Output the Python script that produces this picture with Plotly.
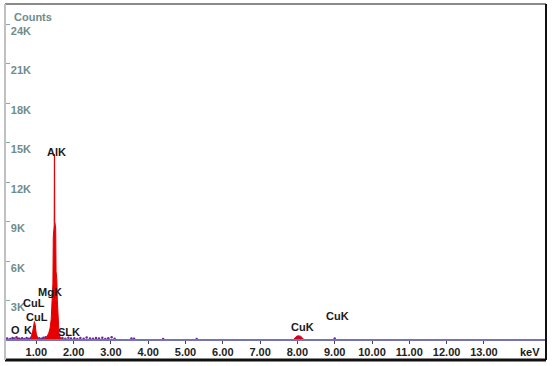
import plotly.graph_objects as go

# ---- data ----
spectrum_kev = [0.30, 0.45, 0.52, 0.58, 0.70, 0.85, 0.90, 0.93, 0.95, 0.97, 1.00, 1.04, 1.10, 1.20,
                1.28, 1.33, 1.37, 1.40, 1.42, 1.435, 1.445, 1.455, 1.465, 1.48, 1.485, 1.49, 1.495,
                1.505, 1.52, 1.53, 1.54, 1.55, 1.565, 1.58, 1.595, 1.61, 1.64, 1.68, 1.75, 1.85]
spectrum_counts = [0, 60, 150, 60, 30, 120, 600, 1150, 1400, 1150, 450, 150, 80, 120,
                   250, 500, 900, 1600, 2600, 3800, 4300, 7800, 8300, 8700, 14100, 13800, 9000,
                   8800, 8500, 5200, 4900, 4600, 3000, 1600, 800, 400, 200, 100, 50, 0]

cuk_kev = [7.88, 7.93, 7.98, 8.03, 8.08, 8.13, 8.18]
cuk_counts = [0, 180, 290, 320, 290, 180, 0]

noise_kev = [0.22, 0.30, 0.36, 0.41, 0.47, 0.55, 0.62, 0.68, 0.74, 0.80, 0.86, 1.08, 1.14, 1.19,
             1.25, 1.70, 1.78, 1.86, 1.93, 2.02, 2.10, 2.18, 2.27, 2.35, 2.44, 2.52, 2.60, 2.68,
             2.77, 2.85, 2.93, 3.02, 3.10, 3.55, 3.62, 4.40, 5.30, 9.00]
noise_counts = [120, 80, 150, 110, 200, 90, 140, 70, 160, 100, 180, 130, 90, 170,
                210, 150, 90, 170, 110, 140, 80, 160, 100, 190, 120, 90, 150, 110,
                170, 80, 140, 200, 100, 120, 90, 80, 70, 110]

x_tick_vals = [1, 2, 3, 4, 5, 6, 7, 8, 9, 10, 11, 12, 13]
x_tick_text = ["1.00", "2.00", "3.00", "4.00", "5.00", "6.00", "7.00", "8.00", "9.00",
               "10.00", "11.00", "12.00", "13.00"]
y_tick_vals = [3000, 6000, 9000, 12000, 15000, 18000, 21000, 24000]
y_tick_text = ["3K", "6K", "9K", "12K", "15K", "18K", "21K", "24K"]

peak_labels = ["AlK", "MgK", "CuL", "CuL", "O", "K", "SLK", "CuK", "CuK"]

# ---- figure ----
W, H = 552, 366
ML, MR, MT, MB = 5, 6, 4, 6
PX_PER_KEV = 37.3
PX_PER_COUNT = 39.5 / 3000
AX0_PX = 340  # pixel row of zero counts

def kev_at(px):
    return (px + 1) / PX_PER_KEV

def cnt_at(py):
    return (AX0_PX - py) / PX_PER_COUNT

FONT = "Arial, Liberation Sans, sans-serif"

fig = go.Figure()
fig.add_trace(go.Scatter(x=spectrum_kev, y=spectrum_counts, mode="lines",
                         line=dict(color="#e00000", width=1), fill="tozeroy",
                         fillcolor="#e80000", hoverinfo="skip"))
fig.add_trace(go.Scatter(x=cuk_kev, y=cuk_counts, mode="lines",
                         line=dict(color="#d00020", width=1), fill="tozeroy",
                         fillcolor="#d00020", hoverinfo="skip"))
fig.add_trace(go.Scatter(x=noise_kev, y=noise_counts, mode="markers",
                         marker=dict(color="#6a2a9a", size=2.5), hoverinfo="skip"))

label_pos = [(56, 152), (50, 292), (34, 303), (37, 317), (15, 330), (28, 330),
             (69, 332), (302, 327), (337, 316)]
annots = []
for name, (px, py) in zip(peak_labels, label_pos):
    annots.append(dict(x=kev_at(px), y=cnt_at(py), xref="x", yref="y", text=name,
                       showarrow=False,
                       font=dict(family=FONT, size=11, color="#1a1a1a", weight="bold"),
                       xanchor="center", yanchor="middle"))
annots.append(dict(x=kev_at(530), y=cnt_at(352), xref="x", yref="y", text="keV",
                   showarrow=False,
                   font=dict(family=FONT, size=11, color="#1a1a1a", weight="bold"),
                   xanchor="center", yanchor="middle"))
annots.append(dict(x=7 / W, y=1 - 13 / H, xref="paper", yref="paper", text="Counts",
                   showarrow=False,
                   font=dict(family=FONT, size=11, color="#6f8c8c", weight="bold"),
                   xanchor="left", yanchor="middle"))

plot_h = H - MT - MB
plot_w = W - ML - MR
x0 = kev_at(ML)
x1 = x0 + plot_w / PX_PER_KEV
y1 = cnt_at(MT)
y0 = cnt_at(H - MB)

fig.update_layout(
    width=W, height=H,
    margin=dict(l=ML, r=MR, t=MT, b=MB),
    paper_bgcolor="white", plot_bgcolor="white",
    showlegend=False,
    annotations=annots,
    xaxis=dict(range=[x0, x1], tickvals=x_tick_vals, ticktext=x_tick_text,
               showgrid=False, zeroline=False, showline=True, linecolor="#7575b5",
               linewidth=2, anchor="free", position=(H - MB - AX0_PX) / plot_h,
               ticks="outside", ticklen=3, tickcolor="#444", tickwidth=1,
               ticklabelstandoff=-1, automargin=False,
               tickfont=dict(family=FONT, size=11, color="#222", weight="bold")),
    yaxis=dict(range=[y0, y1], tickvals=y_tick_vals, ticktext=y_tick_text,
               showgrid=False, zeroline=False, showline=False,
               ticks="inside", ticklen=5, tickcolor="#8aa", tickwidth=1,
               ticklabelposition="inside", ticklabelshift=7, automargin=False,
               tickfont=dict(family=FONT, size=11, color="#6f8c8c", weight="bold")),
    shapes=[
        dict(type="line", xref="paper", yref="paper", x0=0, x1=1, y0=1, y1=1,
             line=dict(color="#8a8a8a", width=2)),
        dict(type="line", xref="paper", yref="paper", x0=1, x1=1, y0=0, y1=1,
             line=dict(color="#111", width=2)),
        dict(type="line", xref="paper", yref="paper", x0=0, x1=1, y0=0, y1=0,
             line=dict(color="#111", width=3)),
        dict(type="line", xref="paper", yref="paper", x0=0, x1=0, y0=0, y1=1,
             line=dict(color="#c0c0c0", width=2)),
    ],
)

fig.write_html("out.html", config={"displayModeBar": False},
               post_script="document.body.style.margin='0';document.body.style.overflow='hidden';")
